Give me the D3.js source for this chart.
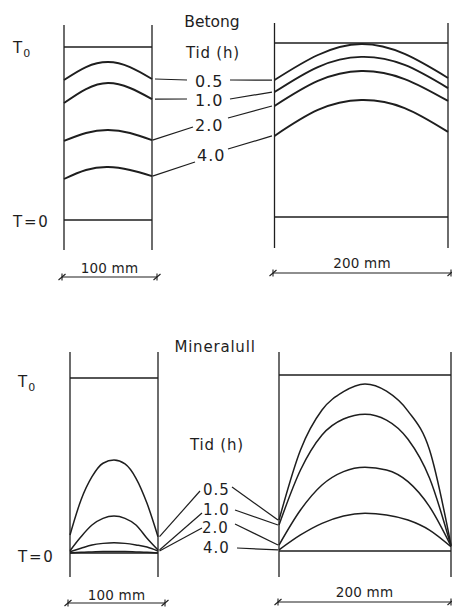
<!DOCTYPE html>
<html><head><meta charset="utf-8">
<script src="https://cdn.jsdelivr.net/npm/d3@7/dist/d3.min.js"></script>
<style>
body{margin:0;background:#fff}
text{font-family:"DejaVu Sans",sans-serif;fill:#1e1e1e}
</style>
</head><body>
<script>
// ---------- data ----------
const materialNames = ["Betong", "Mineralull"];
const timeTitle = "Tid (h)";
const timeLabels = ["0.5", "1.0", "2.0", "4.0"];
const widthLabels = ["100 mm", "200 mm"];
// positions across the wall (mm)
const xTop100 = [0, 25, 50, 75, 100];
const xTop200 = [0, 50, 100, 150, 200];
const xBot100 = [0, 12.5, 25, 37.5, 50, 62.5, 75, 87.5, 100];
const xBot200 = [0, 25, 50, 75, 100, 125, 150, 175, 200];
// relative temperature (T=0 -> 0, T0 -> 1), one row per time
const betong100 = [
  [0.809, 0.884, 0.913, 0.884, 0.815],
  [0.676, 0.757, 0.792, 0.763, 0.699],
  [0.457, 0.503, 0.520, 0.503, 0.462],
  [0.237, 0.289, 0.306, 0.289, 0.254]
];
const betong200 = [
  [0.787, 0.931, 0.994, 0.937, 0.799],
  [0.718, 0.862, 0.920, 0.874, 0.741],
  [0.638, 0.782, 0.839, 0.793, 0.667],
  [0.466, 0.615, 0.672, 0.626, 0.489]
];
const mineral100 = [
  [0.103, 0.303, 0.436, 0.513, 0.531, 0.509, 0.427, 0.284, 0.093],
  [0.013, 0.093, 0.160, 0.198, 0.211, 0.198, 0.160, 0.084, 0.017],
  [0.007, 0.027, 0.046, 0.055, 0.059, 0.055, 0.046, 0.034, 0.011],
  [0.000, 0.004, 0.006, 0.008, 0.008, 0.008, 0.006, 0.004, 0.000]
];
const mineral200 = [
  [0.176, 0.574, 0.801, 0.905, 0.949, 0.908, 0.795, 0.575, 0.034],
  [0.148, 0.460, 0.659, 0.750, 0.777, 0.744, 0.635, 0.415, 0.028],
  [0.034, 0.233, 0.375, 0.451, 0.476, 0.460, 0.394, 0.252, 0.028],
  [0.006, 0.091, 0.157, 0.199, 0.214, 0.205, 0.176, 0.119, 0.024]
];

// ---------- layout ----------
const W = 452, H = 609;
const ink = "#1e1e1e";
const svg = d3.select("body").append("svg").attr("width", W).attr("height", H);

const panels = [
  {xs: xTop100, data: betong100, max: 100, x0: 64, x1: 152, top: 25, bottom: 250, yT0: 47, yZero: 220, sw: 1.9, curve: d3.curveNatural,
   dim: {y: 277, a: 62, b: 157, ty: 273, label: widthLabels[0]}},
  {xs: xTop200, data: betong200, max: 200, x0: 274.5, x1: 448, top: 23, bottom: 248, yT0: 43, yZero: 217, sw: 1.9, curve: d3.curveNatural,
   dim: {y: 273, a: 273, b: 451, ty: 268, label: widthLabels[1]}},
  {xs: xBot100, data: mineral100, max: 100, x0: 70, x1: 158, top: 352, bottom: 577, yT0: 378, yZero: 553, sw: 1.5, curve: d3.curveMonotoneX,
   dim: {y: 603, a: 68, b: 165, ty: 600, label: widthLabels[0]}},
  {xs: xBot200, data: mineral200, max: 200, x0: 279, x1: 451, top: 352, bottom: 577, yT0: 375, yZero: 551, sw: 1.5, curve: d3.curveMonotoneX,
   dim: {y: 602, a: 278, b: 451, ty: 597, label: widthLabels[1]}}
];

panels.forEach(p => {
  p.x = d3.scaleLinear().domain([0, p.max]).range([p.x0, p.x1]);
  p.y = d3.scaleLinear().domain([0, 1]).range([p.yZero, p.yT0]);
  const g = svg.append("g");
  // walls
  [0, p.max].forEach(v => {
    g.append("line").attr("x1", p.x(v)).attr("x2", p.x(v))
      .attr("y1", p.top).attr("y2", p.bottom)
      .attr("stroke", ink).attr("stroke-width", 1.3);
  });
  // T0 and T=0 lines
  [0, 1].forEach(t => {
    g.append("line").attr("x1", p.x(0)).attr("x2", p.x(p.max))
      .attr("y1", p.y(t)).attr("y2", p.y(t))
      .attr("stroke", ink).attr("stroke-width", 1.3);
  });
  // curves
  const line = d3.line().x((d, i) => p.x(p.xs[i])).y(d => p.y(d)).curve(p.curve);
  p.data.forEach(row => {
    g.append("path").attr("d", line(row)).attr("fill", "none")
      .attr("stroke", ink).attr("stroke-width", p.sw);
  });
  // dimension line
  const d = p.dim;
  g.append("line").attr("x1", d.a).attr("x2", d.b).attr("y1", d.y).attr("y2", d.y)
    .attr("stroke", ink).attr("stroke-width", 1.2);
  [d.a, d.b].forEach(xx => {
    g.append("line").attr("x1", xx - 3.5).attr("x2", xx + 3.5).attr("y1", d.y + 3).attr("y2", d.y - 3)
      .attr("stroke", ink).attr("stroke-width", 1.1);
    g.append("line").attr("x1", xx).attr("x2", xx).attr("y1", d.y - 3.5).attr("y2", d.y + 3.5)
      .attr("stroke", ink).attr("stroke-width", 1.1);
  });
  g.append("text").attr("x", (d.a + d.b) / 2).attr("y", d.ty)
    .attr("text-anchor", "middle").attr("font-size", 13.5).attr("letter-spacing", 0.2)
    .text(d.label);
});

// left-axis labels T0 and T = 0
function tLabels(t0y, zy, x) {
  const t = svg.append("text").attr("x", x).attr("y", t0y).attr("font-size", 15);
  t.append("tspan").text("T");
  t.append("tspan").attr("dx", 1).attr("dy", 4).attr("font-size", 11).text("0");
  svg.append("text").attr("x", x).attr("y", zy).attr("font-size", 15).attr("word-spacing", -3).text("T = 0");
}
tLabels(53, 227, 13);
tLabels(387, 562, 18);

// titles
svg.append("text").attr("x", 212).attr("y", 27).attr("text-anchor", "middle").attr("font-size", 15.5).text(materialNames[0]);
svg.append("text").attr("x", 213).attr("y", 58).attr("text-anchor", "middle").attr("font-size", 15).attr("letter-spacing", 0.8).text(timeTitle);
svg.append("text").attr("x", 215).attr("y", 352).attr("text-anchor", "middle").attr("font-size", 15).attr("letter-spacing", 0.8).text(materialNames[1]);
svg.append("text").attr("x", 217).attr("y", 450).attr("text-anchor", "middle").attr("font-size", 15).attr("letter-spacing", 0.8).text(timeTitle);

// time labels + leader lines
const topLabelPos = [[195, 87], [195, 106], [195, 131], [197, 161]];
const botLabelPos = [[203, 495], [203, 515], [202, 533], [203, 553]];
timeLabels.forEach((lab, i) => {
  svg.append("text").attr("x", topLabelPos[i][0]).attr("y", topLabelPos[i][1])
    .attr("font-size", 16).attr("letter-spacing", 1).text(lab);
  svg.append("text").attr("x", botLabelPos[i][0]).attr("y", botLabelPos[i][1])
    .attr("font-size", 15).attr("letter-spacing", 1).text(lab);
});

function leader(p, idx, side, lx, ly, gap) {
  const row = p.data[idx];
  const wx = side === "right" ? p.x(p.max) + gap : p.x(0) - gap;
  const wy = side === "right" ? p.y(row[row.length - 1]) : p.y(row[0]);
  svg.append("line").attr("x1", wx).attr("y1", wy).attr("x2", lx).attr("y2", ly)
    .attr("stroke", ink).attr("stroke-width", 1.2);
}
// top group
const topL = [[187, 80, 3], [187, 99, 3], [193, 127, 0.5], [195, 162, 0.5]];
const topR = [[230, 80], [230, 99], [228, 118], [228, 149]];
topL.forEach((q, i) => leader(panels[0], i, "right", q[0], q[1], q[2]));
topR.forEach((q, i) => leader(panels[1], i, "left", q[0], q[1], 2.5));
// bottom group
const botL = [[200, 491], [202, 513], [202, 528]];
const botR = [[232, 487], [235, 510], [235, 524], [237, 548]];
botL.forEach((q, i) => leader(panels[2], i, "right", q[0], q[1], 1.5));
botR.forEach((q, i) => leader(panels[3], i, "left", q[0], q[1], 1));
</script>
</body></html>
